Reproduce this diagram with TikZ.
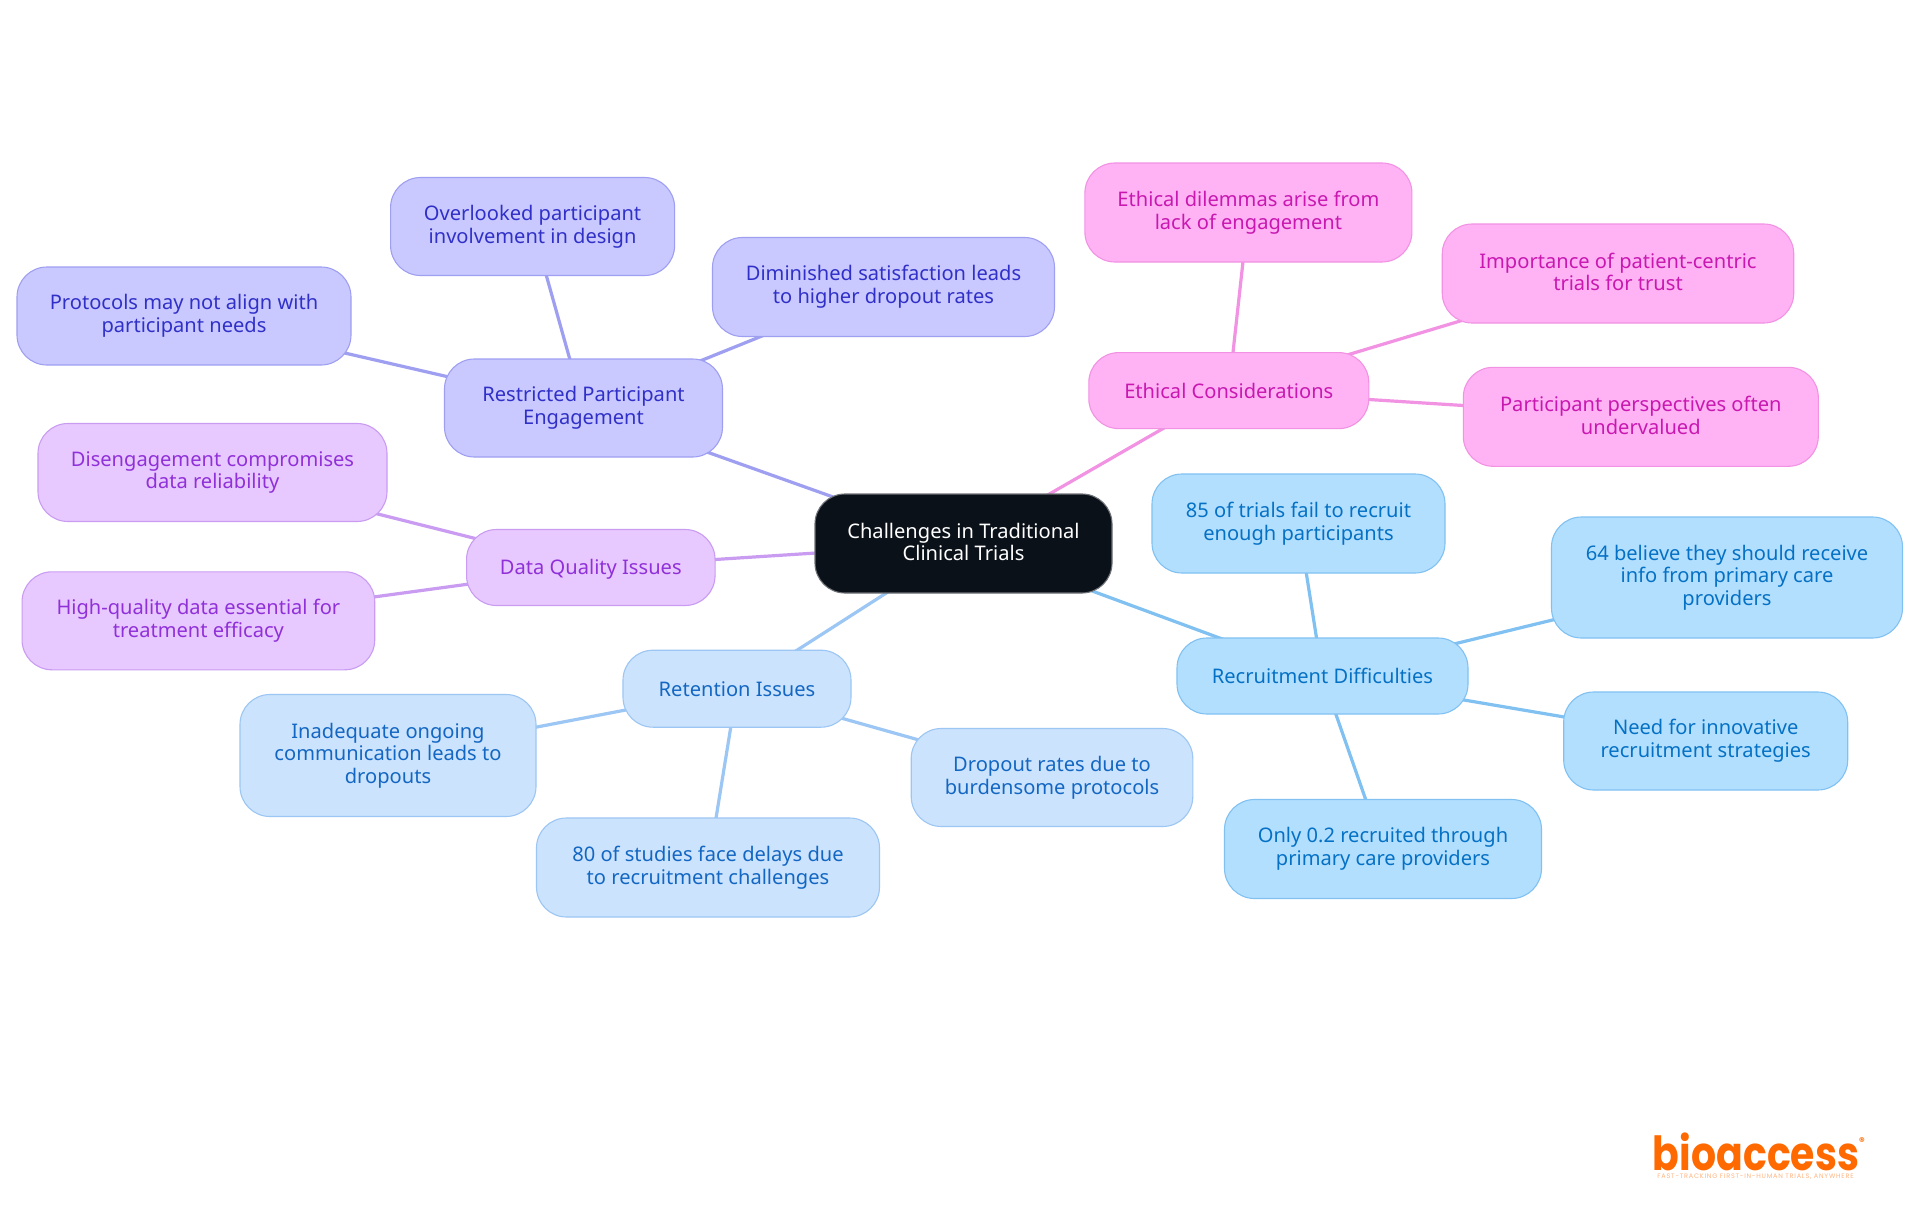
\documentclass[tikz,border=0pt]{standalone}
\usepackage{fontspec}
\setmainfont{Noto Sans}
\newfontfamily\logofont{Poppins}
\newfontfamily\tagfont{Poppins}[LetterSpace=12]
\usetikzlibrary{backgrounds}
\newcommand{\mmstrut}{\rule[-3pt]{0pt}{21pt}}
\definecolor{cRootF}{HTML}{0B1119}\definecolor{cRootD}{HTML}{6F7378}
\definecolor{cRecF}{HTML}{B3DFFF}\definecolor{cRecD}{HTML}{80C1F2}\definecolor{cRecT}{HTML}{0571C4}
\definecolor{cRetF}{HTML}{CCE3FD}\definecolor{cRetD}{HTML}{9CC6F3}\definecolor{cRetT}{HTML}{1367C2}
\definecolor{cEngF}{HTML}{C9C9FF}\definecolor{cEngD}{HTML}{9F9FF2}\definecolor{cEngT}{HTML}{3030C8}
\definecolor{cDatF}{HTML}{E8C9FF}\definecolor{cDatD}{HTML}{C99CF2}\definecolor{cDatT}{HTML}{9030D8}
\definecolor{cEthF}{HTML}{FFB3F5}\definecolor{cEthD}{HTML}{F292E3}\definecolor{cEthT}{HTML}{C818B0}
\definecolor{cLogo}{HTML}{FF6A00}
\tikzset{
  x=1pt,y=-1pt,
  mm/.style={rectangle,rounded corners=30pt,inner sep=0pt,line width=1.1pt,align=center,
    font=\fontsize{20.1}{22.6}\selectfont,
    execute at begin node={\mmstrut},execute at end node={\mmstrut}},
  rootn/.style={mm,fill=cRootF,draw=cRootD,text=white},
  rec/.style={mm,fill=cRecF,draw=cRecD,text=cRecT},
  ret/.style={mm,fill=cRetF,draw=cRetD,text=cRetT},
  eng/.style={mm,fill=cEngF,draw=cEngD,text=cEngT},
  dat/.style={mm,fill=cDatF,draw=cDatD,text=cDatT},
  eth/.style={mm,fill=cEthF,draw=cEthD,text=cEthT},
  lrec/.style={draw=cRecD,line width=3.2pt},
  lret/.style={draw=cRetD,line width=3.2pt},
  leng/.style={draw=cEngD,line width=3.2pt},
  ldat/.style={draw=cDatD,line width=3.2pt},
  leth/.style={draw=cEthD,line width=3.2pt},
}
\begin{document}
\begin{tikzpicture}
\useasboundingbox (0,0) rectangle (1920,1215);
\node[rootn,minimum width=297pt,minimum height=99pt] (root) at (963.5,543.5) {Challenges in Traditional\\Clinical Trials};
% engagement
\node[eng,minimum width=278pt,minimum height=98pt] (engage) at (583.5,408) {Restricted Participant\\Engagement};
\node[eng,minimum width=284pt,minimum height=98pt] (over) at (532.6,226.5) {Overlooked participant\\involvement in design};
\node[eng,minimum width=342pt,minimum height=99pt] (dimin) at (883.5,287) {Diminished satisfaction leads\\to higher dropout rates};
\node[eng,minimum width=334pt,minimum height=98pt] (proto) at (184,316) {Protocols may not align with\\participant needs};
% data
\node[dat,minimum width=248.5pt,minimum height=76pt] (data) at (590.8,567.5) {Data Quality Issues};
\node[dat,minimum width=349pt,minimum height=98pt] (diseng) at (212.5,472.5) {Disengagement compromises\\data reliability};
\node[dat,minimum width=352.7pt,minimum height=98pt] (high) at (198.4,620.8) {High-quality data essential for\\treatment efficacy};
% retention
\node[ret,minimum width=228pt,minimum height=77pt] (reten) at (737,688.7) {Retention Issues};
\node[ret,minimum width=296pt,minimum height=122pt] (inad) at (388,755.5) {Inadequate ongoing\\communication leads to\\dropouts};
\node[ret,minimum width=343pt,minimum height=99pt] (delay) at (708,867.5) {80 of studies face delays due\\to recruitment challenges};
\node[ret,minimum width=281.6pt,minimum height=98pt] (drop) at (1052,777.5) {Dropout rates due to\\burdensome protocols};
% recruitment
\node[rec,minimum width=291pt,minimum height=76pt] (recru) at (1322.5,676) {Recruitment Difficulties};
\node[rec,minimum width=293pt,minimum height=99pt] (fail) at (1298.5,523.5) {85 of trials fail to recruit\\enough participants};
\node[rec,minimum width=351pt,minimum height=121pt] (bel) at (1727,577.5) {64 believe they should receive\\info from primary care\\providers};
\node[rec,minimum width=284pt,minimum height=98pt] (need) at (1705.7,741) {Need for innovative\\recruitment strategies};
\node[rec,minimum width=317pt,minimum height=99pt] (only) at (1383,849) {Only 0.2 recruited through\\primary care providers};
% ethics
\node[eth,minimum width=280pt,minimum height=76pt] (ethic) at (1228.8,390.6) {Ethical Considerations};
\node[eth,minimum width=327pt,minimum height=99pt] (dilem) at (1248.4,212.5) {Ethical dilemmas arise from\\lack of engagement};
\node[eth,minimum width=351.5pt,minimum height=99pt] (impor) at (1618,273.5) {Importance of patient-centric\\trials for trust};
\node[eth,minimum width=355pt,minimum height=99pt] (persp) at (1640.8,416.8) {Participant perspectives often\\undervalued};
% logo
\node[inner sep=0pt,anchor=base,xscale=0.838,text=cLogo,font=\logofont\bfseries\fontsize{47}{48}\selectfont] (logo) at (1756,1170) {bioaccess};
\node[inner sep=0pt,text=cLogo,font=\logofont\bfseries\fontsize{11}{11}\selectfont] (reg) at (1862,1142) {®};
\node[inner sep=0pt,text=cLogo!50,font=\tagfont\fontsize{6.5}{7}\selectfont] (tag) at (1755.5,1177) {FAST-TRACKING FIRST-IN-HUMAN TRIALS, ANYWHERE};
\begin{pgfonlayer}{background}
\fill[white] (0,0) rectangle (1920,1215);
\draw[leng] (root.center) -- (engage.center);
\draw[leng] (engage.center) -- (over.center);
\draw[leng] (engage.center) -- (dimin.center);
\draw[leng] (engage.center) -- (proto.center);
\draw[ldat] (root.center) -- (data.center);
\draw[ldat] (data.center) -- (diseng.center);
\draw[ldat] (data.center) -- (high.center);
\draw[lret] (root.center) -- (reten.center);
\draw[lret] (reten.center) -- (inad.center);
\draw[lret] (reten.center) -- (delay.center);
\draw[lret] (reten.center) -- (drop.center);
\draw[lrec] (root.center) -- (recru.center);
\draw[lrec] (recru.center) -- (fail.center);
\draw[lrec] (recru.center) -- (bel.center);
\draw[lrec] (recru.center) -- (need.center);
\draw[lrec] (recru.center) -- (only.center);
\draw[leth] (root.center) -- (ethic.center);
\draw[leth] (ethic.center) -- (dilem.center);
\draw[leth] (ethic.center) -- (impor.center);
\draw[leth] (ethic.center) -- (persp.center);
\end{pgfonlayer}
\end{tikzpicture}
\end{document}
